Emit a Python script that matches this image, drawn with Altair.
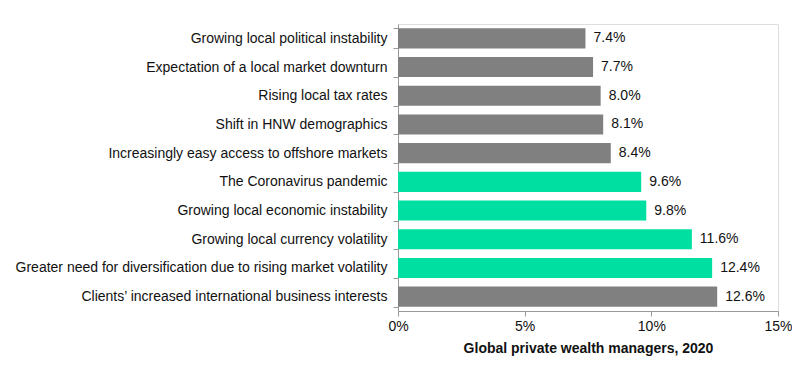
import altair as alt
import pandas as pd

categories = [
    "Growing local political instability",
    "Expectation of a local market downturn",
    "Rising local tax rates",
    "Shift in HNW demographics",
    "Increasingly easy access to offshore markets",
    "The Coronavirus pandemic",
    "Growing local economic instability",
    "Growing local currency volatility",
    "Greater need for diversification due to rising market volatility",
    "Clients\u2019 increased international business interests",
]
values = [0.074, 0.077, 0.080, 0.081, 0.084, 0.096, 0.098, 0.116, 0.124, 0.126]
groups = ["other"] * 5 + ["highlight"] * 4 + ["other"]
x_ticks = [0, 0.05, 0.10, 0.15]

df = pd.DataFrame({"category": categories, "value": values, "group": groups})

FONT = "Liberation Sans"
FS = 14

base = alt.Chart(df).encode(
    y=alt.Y(
        "category:N",
        sort=categories,
        title=None,
        scale=alt.Scale(paddingInner=0.3, paddingOuter=0.15),
        axis=alt.Axis(
            tickBand="extent",
            tickSize=5,
            labelPadding=6,
            labelFontSize=FS,
            labelFont=FONT,
            labelColor="#111111",
            domainColor="#999999",
            tickColor="#999999",
            labelLimit=400,
        ),
    ),
    x=alt.X(
        "value:Q",
        scale=alt.Scale(domain=[0, 0.15], nice=False),
        title="Global private wealth managers, 2020",
        axis=alt.Axis(
            values=x_ticks,
            format=".0%",
            grid=False,
            tickSize=5,
            labelFlush=False,
            labelFontSize=FS,
            labelFont=FONT,
            labelColor="#111111",
            labelPadding=3,
            domainColor="#999999",
            tickColor="#999999",
            titleFont=FONT,
            titleFontSize=FS,
            titleFontWeight="bold",
            titleColor="#111111",
            titlePadding=8,
        ),
    ),
)

bars = base.mark_bar().encode(
    color=alt.Color(
        "group:N",
        scale=alt.Scale(domain=["other", "highlight"], range=["#808080", "#00DFA2"]),
        legend=None,
    )
)

labels = base.mark_text(
    align="left", baseline="middle", dx=8, fontSize=FS, font=FONT, color="#111111"
).encode(text=alt.Text("value:Q", format=".1%"))

chart = (
    (bars + labels)
    .properties(
        width=380,
        height=287,
        autosize=alt.AutoSizeParams(type="none"),
        padding={"left": 390, "top": 16, "right": 14, "bottom": 50},
    )
    .configure_view(stroke=None)
    .configure(background="white")
)

chart.save("out.html", embed_options={"renderer": "svg", "actions": False})
